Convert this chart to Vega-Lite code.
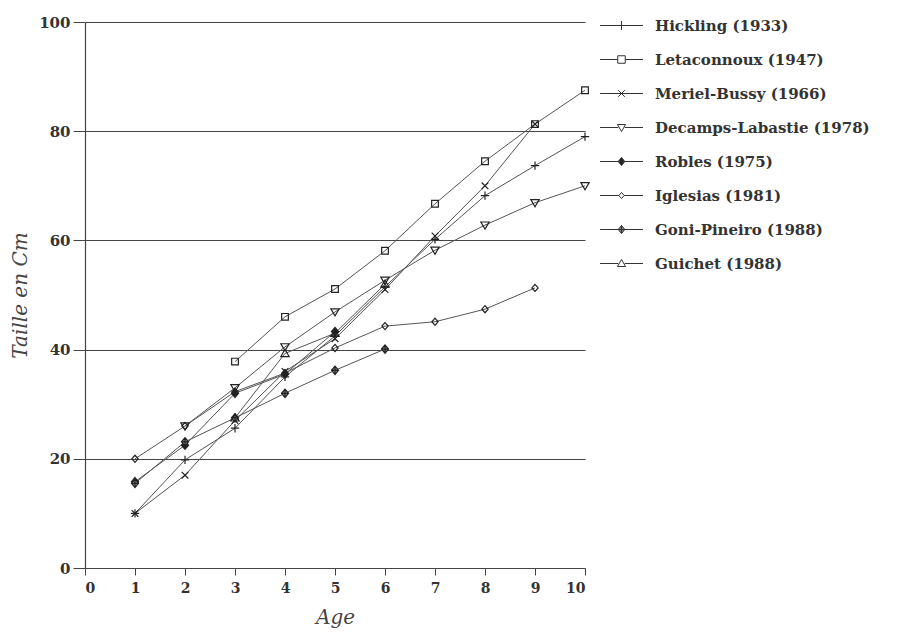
{
  "$schema": "https://vega.github.io/schema/vega-lite/v6.json",
  "width": 500,
  "height": 546,
  "autosize": "none",
  "padding": {"left": 85, "top": 22, "right": 329, "bottom": 66},
  "background": "white",
  "config": {"view": {"stroke": null}, "font": "DejaVu Serif"},
  "data": {
    "values": [
      {"series": "Hickling (1933)", "age": 1, "size": 10},
      {"series": "Hickling (1933)", "age": 2, "size": 19.8},
      {"series": "Hickling (1933)", "age": 3, "size": 25.6},
      {"series": "Hickling (1933)", "age": 4, "size": 35},
      {"series": "Hickling (1933)", "age": 5, "size": 42.5},
      {"series": "Hickling (1933)", "age": 6, "size": 51.5},
      {"series": "Hickling (1933)", "age": 7, "size": 60.2},
      {"series": "Hickling (1933)", "age": 8, "size": 68.2},
      {"series": "Hickling (1933)", "age": 9, "size": 73.7},
      {"series": "Hickling (1933)", "age": 10, "size": 79},
      {"series": "Letaconnoux (1947)", "age": 3, "size": 37.8},
      {"series": "Letaconnoux (1947)", "age": 4, "size": 46},
      {"series": "Letaconnoux (1947)", "age": 5, "size": 51.1},
      {"series": "Letaconnoux (1947)", "age": 6, "size": 58.1},
      {"series": "Letaconnoux (1947)", "age": 7, "size": 66.7},
      {"series": "Letaconnoux (1947)", "age": 8, "size": 74.5},
      {"series": "Letaconnoux (1947)", "age": 9, "size": 81.3},
      {"series": "Letaconnoux (1947)", "age": 10, "size": 87.5},
      {"series": "Meriel-Bussy (1966)", "age": 1, "size": 10},
      {"series": "Meriel-Bussy (1966)", "age": 2, "size": 17},
      {"series": "Meriel-Bussy (1966)", "age": 3, "size": 27},
      {"series": "Meriel-Bussy (1966)", "age": 4, "size": 36},
      {"series": "Meriel-Bussy (1966)", "age": 5, "size": 42},
      {"series": "Meriel-Bussy (1966)", "age": 6, "size": 51},
      {"series": "Meriel-Bussy (1966)", "age": 7, "size": 60.8},
      {"series": "Meriel-Bussy (1966)", "age": 8, "size": 70},
      {"series": "Meriel-Bussy (1966)", "age": 9, "size": 81.3},
      {"series": "Decamps-Labastie (1978)", "age": 2, "size": 26},
      {"series": "Decamps-Labastie (1978)", "age": 3, "size": 33},
      {"series": "Decamps-Labastie (1978)", "age": 4, "size": 40.5},
      {"series": "Decamps-Labastie (1978)", "age": 5, "size": 46.9},
      {"series": "Decamps-Labastie (1978)", "age": 6, "size": 52.7},
      {"series": "Decamps-Labastie (1978)", "age": 7, "size": 58.2},
      {"series": "Decamps-Labastie (1978)", "age": 8, "size": 62.8},
      {"series": "Decamps-Labastie (1978)", "age": 9, "size": 66.9},
      {"series": "Decamps-Labastie (1978)", "age": 10, "size": 70},
      {"series": "Robles (1975)", "age": 1, "size": 15.8},
      {"series": "Robles (1975)", "age": 2, "size": 22.5},
      {"series": "Robles (1975)", "age": 3, "size": 32},
      {"series": "Robles (1975)", "age": 4, "size": 35.5},
      {"series": "Robles (1975)", "age": 5, "size": 43.3},
      {"series": "Iglesias (1981)", "age": 1, "size": 20},
      {"series": "Iglesias (1981)", "age": 2, "size": 26},
      {"series": "Iglesias (1981)", "age": 3, "size": 32.3},
      {"series": "Iglesias (1981)", "age": 4, "size": 35.7},
      {"series": "Iglesias (1981)", "age": 5, "size": 40.3},
      {"series": "Iglesias (1981)", "age": 6, "size": 44.3},
      {"series": "Iglesias (1981)", "age": 7, "size": 45.1},
      {"series": "Iglesias (1981)", "age": 8, "size": 47.4},
      {"series": "Iglesias (1981)", "age": 9, "size": 51.3},
      {"series": "Goni-Pineiro (1988)", "age": 1, "size": 15.5},
      {"series": "Goni-Pineiro (1988)", "age": 2, "size": 23.1},
      {"series": "Goni-Pineiro (1988)", "age": 3, "size": 27.5},
      {"series": "Goni-Pineiro (1988)", "age": 4, "size": 32},
      {"series": "Goni-Pineiro (1988)", "age": 5, "size": 36.2},
      {"series": "Goni-Pineiro (1988)", "age": 6, "size": 40.1},
      {"series": "Guichet (1988)", "age": 3, "size": 27.5},
      {"series": "Guichet (1988)", "age": 4, "size": 39.3},
      {"series": "Guichet (1988)", "age": 5, "size": 43},
      {"series": "Guichet (1988)", "age": 6, "size": 52}
    ]
  },
  "encoding": {
    "x": {
      "field": "age", "type": "quantitative",
      "scale": {"domain": [0, 10], "nice": false},
      "axis": {
        "values": [0, 1, 2, 3, 4, 5, 6, 7, 8, 9, 10],
        "title": "Age",
        "titleFont": "DejaVu Serif", "titleFontStyle": "italic", "titleFontWeight": "normal",
        "titleFontSize": 20, "titleColor": "#444", "titlePadding": 12,
        "labelFont": "DejaVu Serif", "labelFontSize": 14, "labelFontWeight": "bold",
        "labelColor": "#333", "labelPadding": 6,
        "tickSize": 7, "tickColor": "#444", "domainColor": "#444", "domainWidth": 1.2,
        "grid": false
      }
    },
    "y": {
      "field": "size", "type": "quantitative",
      "scale": {"domain": [0, 100], "nice": false},
      "axis": {
        "values": [0, 20, 40, 60, 80, 100],
        "title": "Taille en Cm",
        "titleFont": "DejaVu Serif", "titleFontStyle": "italic", "titleFontWeight": "normal",
        "titleFontSize": 20, "titleColor": "#444", "titlePadding": 8,
        "labelFont": "DejaVu Serif", "labelFontSize": 15, "labelFontWeight": "bold",
        "labelColor": "#333", "labelPadding": 3,
        "tickSize": 12, "tickColor": "#444", "domainColor": "#444", "domainWidth": 1.2,
        "grid": true, "gridColor": "#444", "gridWidth": 1.2
      }
    }
  },
  "layer": [
    {
      "mark": {"type": "line", "stroke": "#555", "strokeWidth": 1},
      "encoding": {"detail": {"field": "series"}}
    },
    {
      "mark": {"type": "point", "size": 70, "strokeWidth": 1.2, "opacity": 1, "stroke": "#222"},
      "encoding": {
        "shape": {
          "field": "series", "type": "nominal",
          "scale": {
            "domain": ["Hickling (1933)", "Letaconnoux (1947)", "Meriel-Bussy (1966)", "Decamps-Labastie (1978)", "Robles (1975)", "Iglesias (1981)", "Goni-Pineiro (1988)", "Guichet (1988)"],
            "range": [
              "M-1,0L1,0M0,-1L0,1",
              "M-0.8,-0.8L0.8,-0.8L0.8,0.8L-0.8,0.8Z",
              "M-0.8,-0.8L0.8,0.8M-0.8,0.8L0.8,-0.8",
              "M-1,-0.75L1,-0.75L0,0.95Z",
              "M0,-1L0.85,0L0,1L-0.85,0Z",
              "M0,-0.85L0.75,0L0,0.85L-0.75,0Z",
              "M0,-1L0.85,0L0,1L-0.85,0ZM-0.85,0L0.85,0M0,-1L0,1",
              "M-1,0.75L1,0.75L0,-0.95Z"
            ]
          },
          "legend": null
        },
        "fill": {
          "field": "series", "type": "nominal",
          "scale": {
            "domain": ["Hickling (1933)", "Letaconnoux (1947)", "Meriel-Bussy (1966)", "Decamps-Labastie (1978)", "Robles (1975)", "Iglesias (1981)", "Goni-Pineiro (1988)", "Guichet (1988)"],
            "range": ["transparent", "transparent", "transparent", "transparent", "#222", "transparent", "#888", "transparent"]
          },
          "legend": null
        }
      }
    },
    {
      "mark": {"type": "point", "size": 64, "opacity": 0, "strokeWidth": 1},
      "encoding": {
        "shape": {
          "field": "series", "type": "nominal",
          "scale": {
            "domain": ["Hickling (1933)", "Letaconnoux (1947)", "Meriel-Bussy (1966)", "Decamps-Labastie (1978)", "Robles (1975)", "Iglesias (1981)", "Goni-Pineiro (1988)", "Guichet (1988)"],
            "range": [
              "M-1.43,0L1.43,0M0,-0.3L0,0.3",
              "M-1.43,0L-0.25,0M0.25,0L1.43,0M-0.25,-0.25L0.25,-0.25L0.25,0.25L-0.25,0.25Z",
              "M-1.43,0L1.43,0M-0.22,-0.22L0.22,0.22M-0.22,0.22L0.22,-0.22",
              "M-1.43,0L-0.22,0M0.22,0L1.43,0M-0.27,-0.2L0.27,-0.2L0,0.27Z",
              "M-1.43,0L1.43,0M0,-0.27L0.22,0L0,0.27L-0.22,0Z",
              "M-1.43,0L-0.18,0M0.18,0L1.43,0M0,-0.2L0.18,0L0,0.2L-0.18,0Z",
              "M-1.43,0L1.43,0M0,-0.27L0.22,0L0,0.27L-0.22,0ZM0,-0.27L0,0.27",
              "M-1.43,0L-0.22,0M0.22,0L1.43,0M-0.27,0.2L0.27,0.2L0,-0.27Z"
            ]
          },
          "legend": {
            "title": null,
            "orient": "none",
            "legendX": 521,
            "legendY": -12,
            "padding": 0,
            "symbolSize": 900,
            "symbolStrokeWidth": 1,
            "symbolStrokeColor": "#333",
            "symbolOpacity": 1,
            "rowPadding": 10,
            "labelOffset": 18,
            "labelFont": "DejaVu Serif",
            "labelFontSize": 15,
            "labelFontWeight": "bold",
            "labelColor": "#333",
            "labelLimit": 400
          }
        },
        "fill": {
          "field": "series", "type": "nominal",
          "scale": {
            "domain": ["Hickling (1933)", "Letaconnoux (1947)", "Meriel-Bussy (1966)", "Decamps-Labastie (1978)", "Robles (1975)", "Iglesias (1981)", "Goni-Pineiro (1988)", "Guichet (1988)"],
            "range": ["white", "white", "white", "white", "#222", "white", "#888", "white"]
          },
          "legend": {
            "title": null,
            "orient": "none",
            "legendX": 521,
            "legendY": -12,
            "padding": 0,
            "symbolSize": 900,
            "symbolStrokeWidth": 1,
            "symbolOpacity": 1,
            "rowPadding": 10,
            "labelOffset": 18,
            "labelFont": "DejaVu Serif",
            "labelFontSize": 15,
            "labelFontWeight": "bold",
            "labelColor": "#333",
            "labelLimit": 400
          }
        },
        "stroke": {
          "field": "series", "type": "nominal",
          "scale": {
            "domain": ["Hickling (1933)", "Letaconnoux (1947)", "Meriel-Bussy (1966)", "Decamps-Labastie (1978)", "Robles (1975)", "Iglesias (1981)", "Goni-Pineiro (1988)", "Guichet (1988)"],
            "range": ["#333", "#333", "#333", "#333", "#333", "#333", "#333", "#333"]
          },
          "legend": {
            "title": null,
            "orient": "none",
            "legendX": 521,
            "legendY": -12,
            "padding": 0,
            "symbolSize": 900,
            "symbolStrokeWidth": 1,
            "symbolOpacity": 1,
            "rowPadding": 10,
            "labelOffset": 18,
            "labelFont": "DejaVu Serif",
            "labelFontSize": 15,
            "labelFontWeight": "bold",
            "labelColor": "#333",
            "labelLimit": 400
          }
        }
      }
    }
  ],
  "resolve": {
    "scale": {"shape": "independent", "fill": "independent", "stroke": "independent"},
    "legend": {"shape": "independent", "fill": "independent", "stroke": "independent"}
  }
}
